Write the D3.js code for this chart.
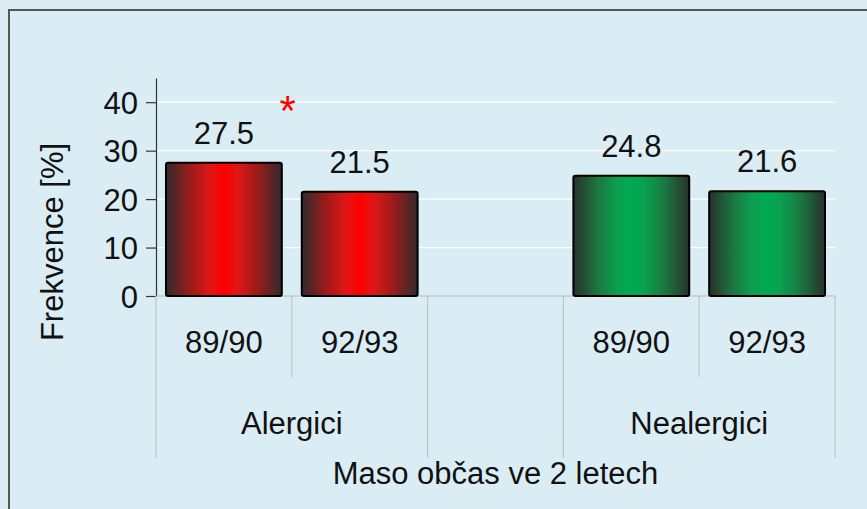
<!DOCTYPE html>
<html>
<head>
<meta charset="utf-8">
<script src="https://cdn.jsdelivr.net/npm/d3@7"></script>
<style>
  html, body { margin: 0; padding: 0; background: #DAEDF4; }
  svg { display: block; }
  text { font-family: Arial, "Liberation Sans", sans-serif; fill: #111; }
</style>
</head>
<body>
<svg id="chart" width="867" height="509"></svg>
<script>
// ---- data ----
const categories = ["89/90", "92/93", "", "89/90", "92/93"];
const categoryKeys = ["A1", "A2", "gap", "N1", "N2"];
const values = [27.5, 21.5, null, 24.8, 21.6];
const seriesColor = ["red", "red", null, "green", "green"];
const groups = ["Alergici", "", "Nealergici"];
const groupSpans = [[0, 1], [2, 2], [3, 4]];
const yTicks = [0, 10, 20, 30, 40];
const yMax = 45;
const axisTitle = "Frekvence [%]";
const xTitle = "Maso občas ve 2 letech";
const significance = { text: "*", afterIndex: 0, value: 40 };

// ---- layout ----
const W = 867, H = 509;
const pLeft = 156, pRight = 835, pTop = 78, pBottom = 296;
const FS = 31;

const svg = d3.select("#chart");

// background + border (only top/left visible)
svg.append("rect").attr("x", 0).attr("y", 0).attr("width", W).attr("height", H).attr("fill", "#DAEDF4");
svg.append("rect").attr("x", 9).attr("y", 10).attr("width", W + 20).attr("height", H + 20)
  .attr("fill", "#DAEDF4").attr("stroke", "#555").attr("stroke-width", 2);

const x = d3.scaleBand().domain(categoryKeys).range([pLeft, pRight]).paddingInner(0.147).paddingOuter(0.0735);
const step = x.step();
const slot0 = pLeft;
const y = d3.scaleLinear().domain([0, yMax]).range([pBottom, pTop]);

// gradients
const defs = svg.append("defs");
function grad(id, edge, mid1, mid2, center) {
  const g = defs.append("linearGradient").attr("id", id).attr("x1", "0%").attr("x2", "100%").attr("y1", "0%").attr("y2", "0%");
  const stops = [[0, edge], [0.22, mid1], [0.38, mid2], [0.5, center], [0.62, mid2], [0.78, mid1], [1, edge]];
  stops.forEach(s => g.append("stop").attr("offset", s[0]).attr("stop-color", s[1]));
}
grad("red", "#2f2a2a", "#a11a1a", "#e01616", "#ff0000");
grad("green", "#2a302b", "#1a7a42", "#0aa04e", "#00aa52");

// gridlines
svg.append("g").selectAll("line").data(yTicks.filter(t => t > 0)).join("line")
  .attr("x1", pLeft).attr("x2", pRight)
  .attr("y1", d => y(d)).attr("y2", d => y(d))
  .attr("stroke", "#ffffff").attr("stroke-width", 1.2);

// y axis
const yAxis = d3.axisLeft(y).tickValues(yTicks).tickSize(10).tickSizeOuter(0).tickPadding(8);
const ya = svg.append("g").attr("transform", `translate(${pLeft},0)`).call(yAxis);
ya.select(".domain").attr("stroke", "#333").attr("stroke-width", 1.2);
ya.selectAll(".tick line").attr("stroke", "#333").attr("stroke-width", 1.2);
ya.selectAll(".tick text").attr("font-size", FS).attr("font-family", "Arial, 'Liberation Sans', sans-serif").attr("fill", "#111").attr("dy", "0.36em");

// category axis line
svg.append("line").attr("x1", pLeft).attr("x2", pRight).attr("y1", pBottom).attr("y2", pBottom)
  .attr("stroke", "#b8b8b8").attr("stroke-width", 1.2);

// separators
const shortEnd = 377, longEnd = 458;
const groupBoundaries = new Set();
groupSpans.forEach(s => { groupBoundaries.add(s[0]); groupBoundaries.add(s[1] + 1); });
const seps = d3.range(categoryKeys.length + 1);
svg.append("g").selectAll("line").data(seps).join("line")
  .attr("x1", i => slot0 + i * step).attr("x2", i => slot0 + i * step)
  .attr("y1", pBottom).attr("y2", i => groupBoundaries.has(i) ? longEnd : shortEnd)
  .attr("stroke", "#c4c4c4").attr("stroke-width", 1.2);

// bars
const barData = categoryKeys.map((k, i) => ({ k, v: values[i], c: seriesColor[i] })).filter(d => d.v != null);
svg.append("g").selectAll("rect").data(barData).join("rect")
  .attr("x", d => x(d.k)).attr("width", x.bandwidth())
  .attr("y", d => y(d.v)).attr("height", d => y(0) - y(d.v))
  .attr("rx", 2)
  .attr("fill", d => `url(#${d.c})`)
  .attr("stroke", "#000").attr("stroke-width", 2);

// value labels
svg.append("g").selectAll("text").data(barData).join("text")
  .attr("x", d => x(d.k) + x.bandwidth() / 2).attr("y", d => y(d.v) - 19)
  .attr("text-anchor", "middle").attr("font-size", FS)
  .text(d => d.v.toFixed(1));

// significance asterisk
svg.append("text")
  .attr("x", slot0 + (significance.afterIndex + 1) * step - 4)
  .attr("y", y(significance.value) + 23)
  .attr("text-anchor", "middle").attr("font-size", 42).style("fill", "#ff0000")
  .text(significance.text);

// category labels
svg.append("g").selectAll("text").data(categories.map((c, i) => ({ c, k: categoryKeys[i] }))).join("text")
  .attr("x", d => x(d.k) + x.bandwidth() / 2).attr("y", 353)
  .attr("text-anchor", "middle").attr("font-size", FS)
  .text(d => d.c);

// group labels
svg.append("g").selectAll("text").data(groups.map((g, i) => ({ g, s: groupSpans[i] }))).join("text")
  .attr("x", d => slot0 + (d.s[0] + d.s[1] + 1) / 2 * step).attr("y", 434)
  .attr("text-anchor", "middle").attr("font-size", FS)
  .text(d => d.g);

// x title
svg.append("text").attr("x", (pLeft + pRight) / 2).attr("y", 484)
  .attr("text-anchor", "middle").attr("font-size", FS).text(xTitle);

// y title
svg.append("text").attr("transform", `translate(63,242) rotate(-90)`)
  .attr("text-anchor", "middle").attr("font-size", FS).text(axisTitle);
</script>
</body>
</html>
